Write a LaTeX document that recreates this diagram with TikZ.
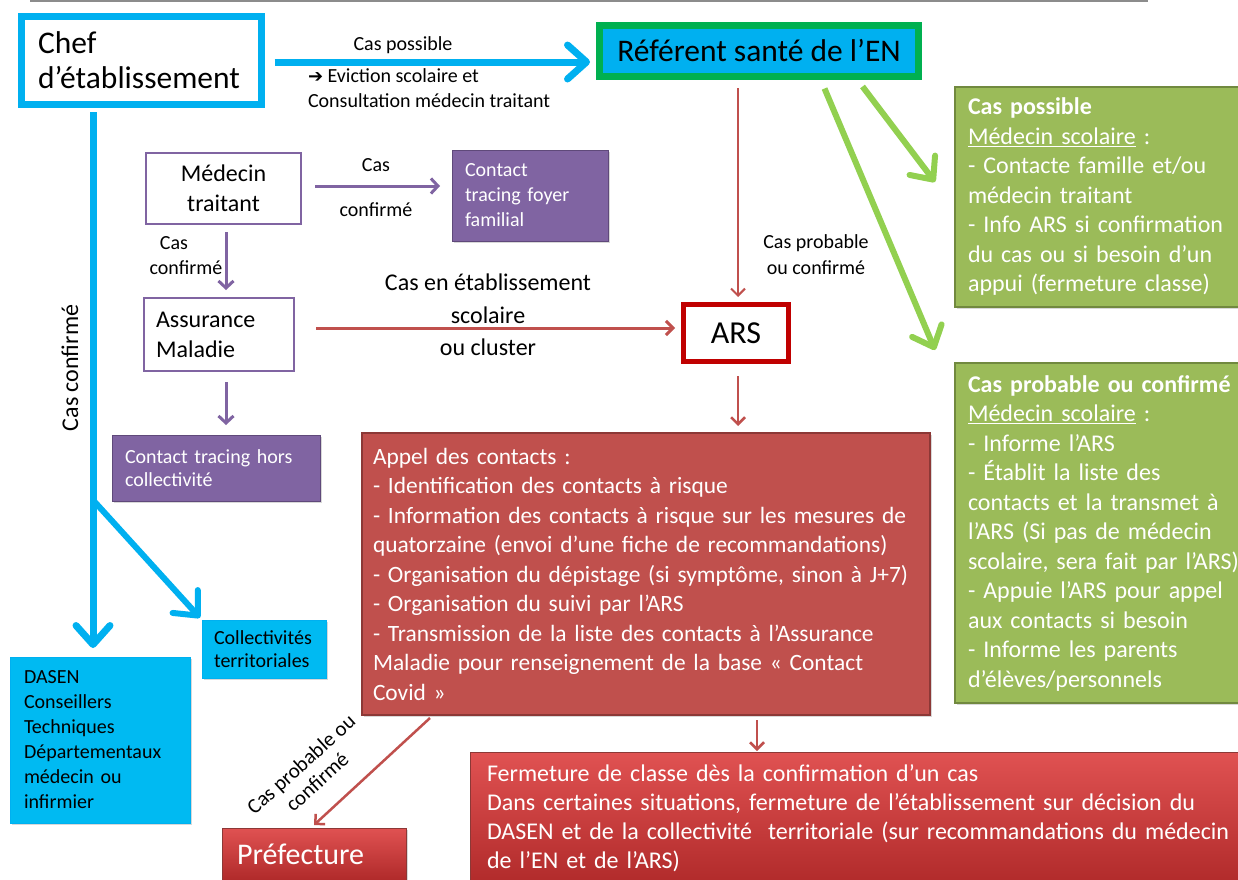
\documentclass[tikz,border=0pt]{standalone}
\usepackage{fontspec}
\setmainfont{Carlito}
\newfontfamily\dejavu{DejaVu Sans}
\usetikzlibrary{arrows.meta,calc,shadows}
\definecolor{cy}{HTML}{00B0F0}
\definecolor{cyb}{HTML}{00BAF2}
\definecolor{dgreen}{HTML}{00B050}
\definecolor{lgreen}{HTML}{92D050}
\definecolor{ogreen}{HTML}{9BBB59}
\definecolor{ogreenb}{HTML}{71893F}
\definecolor{purp}{HTML}{8064A2}
\definecolor{purpb}{HTML}{5F497A}
\definecolor{redl}{HTML}{C0504D}
\definecolor{redb}{HTML}{8C3836}
\definecolor{arsred}{HTML}{C00000}
\definecolor{ftop}{HTML}{E05252}
\definecolor{fbot}{HTML}{B02A2A}
\newcommand{\fsA}{\fontsize{24}{29.5}\selectfont}
\newcommand{\fsB}{\fontsize{20}{25}\selectfont}
\newcommand{\fsC}{\fontsize{31.5}{35}\selectfont}
\begin{document}
\begin{tikzpicture}[x=1pt,y=-1pt,
  every node/.style={inner sep=0pt, outer sep=0pt},
  lbl/.style={font=\fsB, align=center},
  sh/.style={drop shadow={shadow xshift=2pt,shadow yshift=-2pt,opacity=0.3}},
  txtbox/.style={align=left, inner xsep=13pt},
  cyarrow/.style={draw=cy, line width=7pt, -{Straight Barb[length=19pt,width=34pt,round]}},
  grarrow/.style={draw=lgreen, line width=6pt, -{Straight Barb[length=18pt,width=32pt,round]}},
  purarrow/.style={draw=purp, line width=3pt, -{Straight Barb[length=7pt,width=15pt]}},
  redarrow/.style={draw=redl, line width=2.5pt, -{Straight Barb[length=7pt,width=14pt]}},
]
\useasboundingbox (0,0) rectangle (1238,879);
\clip (0,0) rectangle (1238,879);
\fill[white] (0,0) rectangle (1238,879);
\draw[black!45, line width=2pt] (30,1) -- (1148,1);

% boxes
\node[draw=cy, line width=7pt, fill=white, txtbox, inner xsep=16.5pt, text width=207pt,
      minimum height=88pt, font=\fsC] (chef) at (141.5,60.5) {Chef\\d’établissement};
\node[draw=dgreen, fill=cy, line width=7pt, minimum width=319pt, minimum height=51pt,
      font=\fsC] (ref) at (759,51) {Référent santé de l’EN};
\node[draw=arsred, fill=white, line width=5pt, minimum width=105pt, minimum height=57pt,
      font=\fontsize{32}{36}\selectfont] (ars) at (736,333) {ARS};
\node[draw=purp, fill=white, line width=2pt, minimum width=155pt, minimum height=71pt,
      align=center, font=\fontsize{24}{30}\selectfont] (med) at (223.5,188.5) {Médecin\\traitant};
\node[draw=purp, fill=white, line width=2pt, txtbox, inner xsep=12pt, text width=126pt,
      minimum height=73pt, font=\fontsize{24}{30}\selectfont] (assur) at (219,334.5) {Assurance\\Maladie};
\node[draw=purpb, fill=purp, line width=1pt, sh, txtbox, text width=130pt, minimum height=91pt,
      text=white, font=\fsB] (foyer) at (530,195.5) {Contact\\tracing foyer\\familial};
\node[draw=purpb, fill=purp, line width=1pt, sh, txtbox, text width=182pt, minimum height=66pt,
      text=white, font=\fontsize{20}{23}\selectfont] (hors) at (216,468) {Contact tracing hors\\collectivité};
\node[draw=ogreenb, fill=ogreen, line width=1.5pt, sh, txtbox, text width=274pt, minimum height=220pt,
      text=white, font=\fsA] (poss) at (1105,197) {\textbf{Cas possible}\\
\underline{Médecin scolaire} :\\
- Contacte famille et/ou\\
médecin traitant\\
- Info ARS si confirmation\\
du cas ou si besoin d’un\\
appui (fermeture classe)};
\node[draw=ogreenb, fill=ogreen, line width=1.5pt, sh, txtbox, text width=274pt, minimum height=340pt,
      text=white, font=\fsA] (prob) at (1105,533) {\textbf{Cas probable ou confirmé}\\
\underline{Médecin scolaire} :\\
- Informe l’ARS\\
- Établit la liste des\\
contacts et la transmet à\\
l’ARS (Si pas de médecin\\
scolaire, sera fait par l’ARS)\\
- Appuie l’ARS pour appel\\
aux contacts si besoin\\
- Informe les parents\\
d’élèves/personnels};
\node[draw=redb, fill=redl, line width=1.5pt, sh, txtbox, inner xsep=11pt, text width=546pt, minimum height=282pt,
      text=white, font=\fontsize{23.4}{29.5}\selectfont] (appel) at (646,574) {Appel des contacts :\\
- Identification des contacts à risque\\
- Information des contacts à risque sur les mesures de\\
quatorzaine (envoi d’une fiche de recommandations)\\
- Organisation du dépistage (si symptôme, sinon à J+7)\\
- Organisation du suivi par l’ARS\\
- Transmission de la liste des contacts à l’Assurance\\
Maladie pour renseignement de la base « Contact\\
Covid »};
\node[draw=redb, top color=ftop, bottom color=fbot, line width=1pt, sh, txtbox, inner xsep=17pt,
      text width=746pt, minimum height=133pt, text=white, font=\fontsize{24}{29}\selectfont] (ferm) at (860,818.5)
  {Fermeture de classe dès la confirmation d’un cas\\
Dans certaines situations, fermeture de l’établissement sur décision du\\
DASEN et de la collectivité~~territoriale (sur recommandations du médecin\\
de l’EN et de l’ARS)};
\node[draw=redb, top color=ftop, bottom color=fbot, line width=1pt, sh, txtbox, inner xsep=15pt,
      text width=154pt, minimum height=52pt, text=white, font=\fontsize{30}{34}\selectfont] (pref) at (314,854) {Préfecture};
\node[draw=cy, fill=cyb, line width=1pt, sh, txtbox, inner xsep=14pt, text width=152pt, minimum height=166pt,
      font=\fsB] (dasen) at (100,740) {DASEN\\Conseillers\\Techniques\\Départementaux\\médecin ou\\infirmier};
\node[draw=cy, fill=cyb, line width=1pt, sh, txtbox, inner xsep=12pt, text width=100pt, minimum height=58pt,
      font=\fontsize{20}{23}\selectfont] (coll) at (264,649) {Collectivités\\territoriales};

% coordinates
\coordinate (split) at (93,500);
\coordinate (fx) at (757,0);

% connectors
\draw[cyarrow, shorten <=13pt, shorten >=9.5pt] ([yshift=-1.5pt]chef.east) -- ([yshift=-1.5pt]chef.east -| ref.west);
\draw[cyarrow, shorten <=7.5pt, shorten >=9pt] (chef.south -| split) -- (split |- dasen.north);
\draw[cyarrow, line width=6pt, shorten >=3pt] (split) -- (coll.north west);
\draw[purarrow, shorten <=14pt, shorten >=12pt] ([yshift=2.5pt]med.east) -- ([yshift=2.5pt]med.east -| foyer.west);
\draw[purarrow, shorten <=8pt, shorten >=8pt] ([xshift=2.5pt]med.south) -- ([xshift=2.5pt]med.south |- assur.north);
\draw[purarrow, shorten <=11pt, shorten >=10pt] ([xshift=7pt]assur.south) -- ([xshift=7pt]assur.south |- hors.north);
\draw[redarrow, line width=3pt, shorten <=22pt, shorten >=8.5pt] ([yshift=5pt]ars.west -| assur.east) -- ([yshift=5pt]ars.west);
\draw[redarrow, line width=2pt, shorten <=11.5pt, shorten >=7.5pt] ([xshift=2pt]ars.north |- ref.south) -- ([xshift=2pt]ars.north);
\draw[redarrow, shorten <=14.5pt, shorten >=7pt] ([xshift=2pt]ars.south) -- ([xshift=2pt]ars.south |- appel.north);
\draw[redarrow, shorten <=5pt, shorten >=1pt] (appel.south -| fx) -- (ferm.north -| fx);
\draw[redarrow] ($(appel.south west)+(68,3)$) -- ($(pref.north west)+(92,-3)$);
\draw[grarrow] ($(ref.south east)+(-56,10)$) -- ($(poss.west)+(-20,-15)$);
\draw[grarrow] ($(ref.south east)+(-94,12)$) -- ($(prob.north west)+(-20,-13)$);

% labels
\node[lbl] (l1) at (403,45) {Cas possible};
\node[lbl, anchor=west, align=left] (l2) at (308,88.5) {{\dejavu\fontsize{18}{15}\selectfont ➔} Eviction scolaire et\\Consultation médecin traitant};
\node[lbl, font=\fontsize{20}{45}\selectfont] (l3) at (376,187.5) {Cas\\confirmé};
\node[lbl] (l4a) at (174,243) {Cas};
\node[lbl] (l4b) at (186,268) {confirmé};
\node[lbl, font=\fontsize{24}{32.5}\selectfont] (l5) at (488,315) {Cas en établissement\\scolaire\\ou cluster};
\node[lbl, font=\fontsize{20}{26}\selectfont] (l6) at (816,255) {Cas probable\\ou confirmé};
\node[lbl, font=\fontsize{24}{28}\selectfont, rotate=90] (l7) at (70,368) {Cas confirmé};
\node[lbl, font=\fontsize{21}{24}\selectfont, rotate=42] (l8) at (309,773) {Cas probable ou\\confirmé};
\end{tikzpicture}
\end{document}
